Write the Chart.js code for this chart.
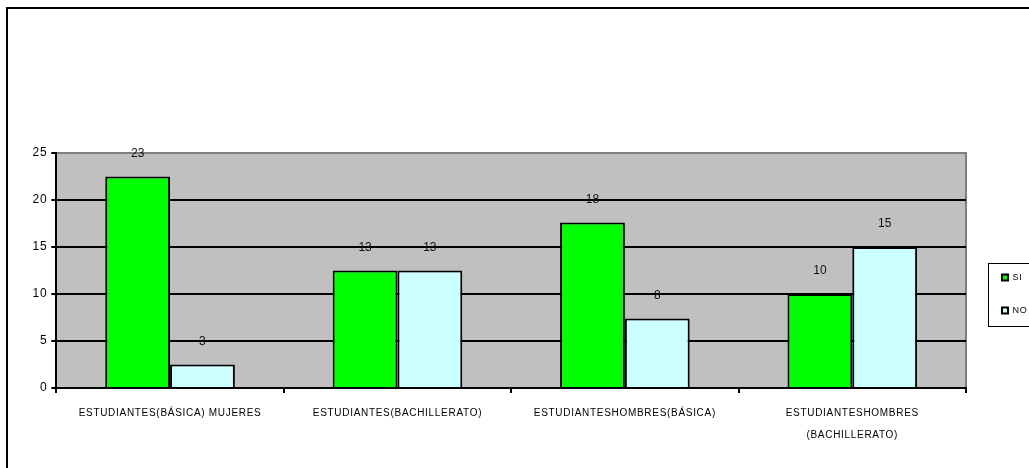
<!DOCTYPE html>
<html>
<head>
<meta charset="utf-8">
<script src="https://cdn.jsdelivr.net/npm/chart.js@4.4.1/dist/chart.umd.min.js"></script>
<style>
  html, body { margin: 0; padding: 0; background: #fff; overflow: hidden; }
  #frame { position: absolute; left: 6px; top: 7px; width: 1100px; height: 500px;
           border-top: 2px solid #000; border-left: 2px solid #000; }
  #wrap { position: absolute; left: 0; top: 0; width: 1029px; height: 468px; }
</style>
</head>
<body>
<div id="frame"></div>
<div id="wrap"><canvas id="chart"></canvas></div>
<script>
  // --- data ---
  const categories = [
    "ESTUDIANTES(BÁSICA) MUJERES",
    "ESTUDIANTES(BACHILLERATO)",
    "ESTUDIANTESHOMBRES(BÁSICA)",
    ["ESTUDIANTESHOMBRES", "(BACHILLERATO)"]
  ];
  const siValues = [22.5, 12.5, 17.6, 10];
  const noValues = [2.5, 12.5, 7.4, 15];
  // numbers printed above the bars (rounded in the original)
  const siLabels = ["23", "13", "18", "10"];
  const noLabels = ["3", "13", "8", "15"];
  const yTicks = [0, 5, 10, 15, 20, 25];

  const FONT = '"Liberation Sans", Arial, Helvetica, sans-serif';
  Chart.defaults.font.family = FONT;
  Chart.defaults.color = "#000";

  // grey plot area with a grey top/right frame, like the old Excel style
  const plotBg = {
    id: "plotBg",
    beforeDraw(chart) {
      const { ctx, chartArea: a } = chart;
      ctx.save();
      ctx.fillStyle = "#c0c0c0";
      ctx.fillRect(a.left, a.top, a.width, a.height);
      ctx.strokeStyle = "#808080";
      ctx.lineWidth = 2;
      ctx.beginPath();
      ctx.moveTo(a.left, a.top);
      ctx.lineTo(a.right, a.top);
      ctx.lineTo(a.right, a.bottom);
      ctx.stroke();
      ctx.restore();
      ctx.letterSpacing = "0.7px"; // wide axis captions
    },
    beforeDatasetsDraw(chart) {
      chart.ctx.letterSpacing = "0px";
    }
  };

  const valueLabels = {
    id: "valueLabels",
    afterDatasetsDraw(chart) {
      const ctx = chart.ctx;
      const texts = [siLabels, noLabels];
      ctx.save();
      ctx.font = "12px " + FONT;
      ctx.fillStyle = "#111";
      ctx.textAlign = "center";
      ctx.textBaseline = "middle";
      texts.forEach((list, i) => {
        chart.getDatasetMeta(i).data.forEach((bar, j) => {
          ctx.fillText(list[j], bar.x, bar.y - 23);
        });
      });
      ctx.restore();
    }
  };

  // nudge the legend: further from the plot, a bit higher
  const legendShift = {
    id: "legendShift",
    afterLayout(chart) {
      const l = chart.legend;
      if (!l) return;
      l.left += 12; l.right += 12;
      l.top -= 10; l.bottom -= 10;
    }
  };

  const legendFrame = {
    id: "legendFrame",
    afterDraw(chart) {
      const hb = chart.legend && chart.legend.legendHitBoxes;
      if (!hb || !hb.length) return;
      const first = hb[0], last = hb[hb.length - 1];
      const ctx = chart.ctx;
      ctx.save();
      ctx.strokeStyle = "#000";
      ctx.lineWidth = 1;
      const top = Math.round(first.top - 10) + 0.5;
      const bottom = Math.round(last.top + last.height + 11) + 0.5;
      const left = Math.round(first.left - 14) + 0.5;
      ctx.strokeRect(left, top, 200, bottom - top);
      ctx.restore();
    }
  };

  new Chart(document.getElementById("chart"), {
    type: "bar",
    data: {
      labels: categories,
      datasets: [
        { label: "SI", data: siValues, backgroundColor: "#00ff00", borderColor: "#000", borderWidth: 2 },
        { label: "NO", data: noValues, backgroundColor: "#ccffff", borderColor: "#000", borderWidth: 2 }
      ]
    },
    options: {
      responsive: true,
      maintainAspectRatio: false,
      animation: false,
      categoryPercentage: 0.57,
      barPercentage: 1.0,
      layout: { padding: { left: 30, top: 153, right: 5, bottom: 13 } },
      plugins: {
        legend: {
          position: "right",
          labels: {
            boxWidth: 6, boxHeight: 6, padding: 24, color: "#000",
            font: { size: 9 }
          }
        },
        tooltip: { enabled: false }
      },
      scales: {
        x: {
          grid: { display: true, drawOnChartArea: false, offset: true, color: "#000", lineWidth: 2, tickLength: 5 },
          border: { color: "#000", width: 2 },
          ticks: { color: "#000", padding: 9, maxRotation: 0, autoSkip: false, font: { size: 10, lineHeight: 2.2 } }
        },
        y: {
          min: 0, max: 25,
          afterBuildTicks: (s) => { s.ticks = yTicks.map((v) => ({ value: v })); },
          grid: {
            color: (c) => (c.tick && c.tick.value === 25 ? "#808080" : "#000"),
            lineWidth: 2, tickLength: 5, tickColor: "#000"
          },
          border: { color: "#000", width: 2 },
          ticks: { color: "#000", padding: 4, font: { size: 12 } }
        }
      }
    },
    plugins: [plotBg, valueLabels, legendShift, legendFrame]
  });
</script>
</body>
</html>
